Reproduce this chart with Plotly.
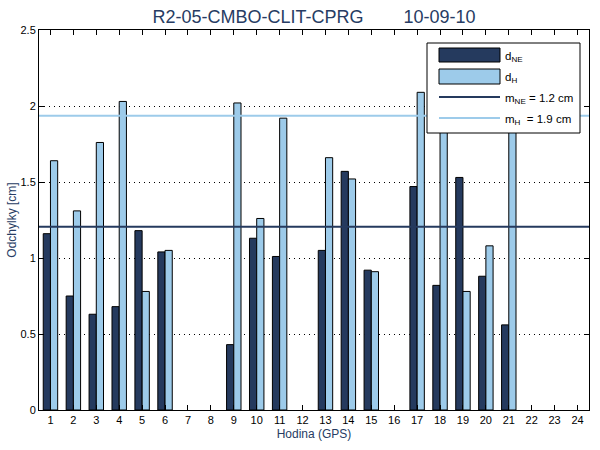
import plotly.graph_objects as go

hours = list(range(1, 25))
d_ne = [1.16, 0.75, 0.63, 0.68, 1.18, 1.04, None, None, 0.43, 1.13, 1.01, None,
        1.05, 1.57, 0.92, None, 1.47, 0.82, 1.53, 0.88, 0.56, None, None, None]
d_h = [1.64, 1.31, 1.76, 2.03, 0.78, 1.05, None, None, 2.02, 1.26, 1.92, None,
       1.66, 1.52, 0.91, None, 2.09, 1.98, 0.78, 1.08, 1.95, None, None, None]
m_ne = 1.206
m_h = 1.936
yticks = [0, 0.5, 1, 1.5, 2, 2.5]

C_NE = "#253a5e"
C_H = "#9dcbea"
NAVY = "#273c63"
FONT = "Liberation Sans, Arial, sans-serif"

fig = go.Figure()
fig.add_trace(go.Bar(x=hours, y=d_ne, marker=dict(color=C_NE, line=dict(color="black", width=1)),
                     name="d_NE", showlegend=False))
fig.add_trace(go.Bar(x=hours, y=d_h, marker=dict(color=C_H, line=dict(color="black", width=1)),
                     name="d_H", showlegend=False))
fig.add_trace(go.Scatter(x=[0.5, 24.5], y=[m_ne, m_ne], mode="lines",
                         line=dict(color=C_NE, width=2), showlegend=False))
fig.add_trace(go.Scatter(x=[0.5, 24.5], y=[m_h, m_h], mode="lines",
                         line=dict(color=C_H, width=2), showlegend=False))

L, T, W, H = 39, 30, 550, 380
def px(x):
    return (x - L) / W
def py(y):
    return (T + H - y) / H

shapes = [
    dict(type="rect", xref="paper", yref="paper", x0=px(427), x1=px(580), y0=py(133), y1=py(43),
         fillcolor="white", line=dict(color="black", width=1), layer="above"),
    dict(type="rect", xref="paper", yref="paper", x0=px(439), x1=px(500), y0=py(62), y1=py(48),
         fillcolor=C_NE, line=dict(color="black", width=1), layer="above"),
    dict(type="rect", xref="paper", yref="paper", x0=px(439), x1=px(500), y0=py(84), y1=py(69),
         fillcolor=C_H, line=dict(color="black", width=1), layer="above"),
    dict(type="line", xref="paper", yref="paper", x0=px(439), x1=px(500), y0=py(97), y1=py(97),
         line=dict(color=C_NE, width=2), layer="above"),
    dict(type="line", xref="paper", yref="paper", x0=px(439), x1=px(500), y0=py(118), y1=py(118),
         line=dict(color=C_H, width=2), layer="above"),
]
legend_texts = [
    ("d<sub>NE</sub>", 57),
    ("d<sub>H</sub>", 78),
    ("m<sub>NE</sub> = 1.2 cm", 99),
    ("m<sub>H</sub> \u00a0= 1.9 cm", 120),
]
annotations = [
    dict(text=t, xref="paper", yref="paper", x=px(503), y=py(yy), xanchor="left", yanchor="middle",
         showarrow=False, font=dict(family=FONT, size=11.5, color="black"))
    for t, yy in legend_texts
]

fig.update_layout(
    width=600, height=450,
    margin=dict(l=L, r=600 - L - W, t=T, b=450 - T - H, autoexpand=False),
    paper_bgcolor="white", plot_bgcolor="white",
    barmode="group", bargap=0.37, bargroupgap=0,
    font=dict(family=FONT, size=11, color="black"),
    title=dict(text="R2-05-CMBO-CLIT-CPRG" + "\u00a0" * 8 + "10-09-10",
               x=px(314), xref="paper", xanchor="center", y=1 - 17 / 450, yanchor="middle",
               font=dict(family=FONT, size=18, color=NAVY)),
    shapes=shapes, annotations=annotations,
)
fig.update_xaxes(range=[0.5, 24.5], tickvals=hours, ticks="inside", ticklen=5, tickcolor="black",
                 showline=True, linecolor="black", linewidth=1, mirror="ticks", showgrid=False,
                 zeroline=False, automargin=False, tickfont=dict(size=11),
                 title=dict(text="Hodina (GPS)", font=dict(family=FONT, size=12, color=NAVY), standoff=4))
fig.update_yaxes(range=[0, 2.5], tickvals=yticks, ticks="inside", ticklen=5, tickcolor="black",
                 showline=True, linecolor="black", linewidth=1, mirror="ticks", automargin=False,
                 showgrid=True, gridcolor="black", gridwidth=1, griddash="1px,4px", zeroline=False,
                 title=dict(text="Odchylky [cm]", font=dict(family=FONT, size=12, color=NAVY), standoff=1))

fig.write_html("out.html")
